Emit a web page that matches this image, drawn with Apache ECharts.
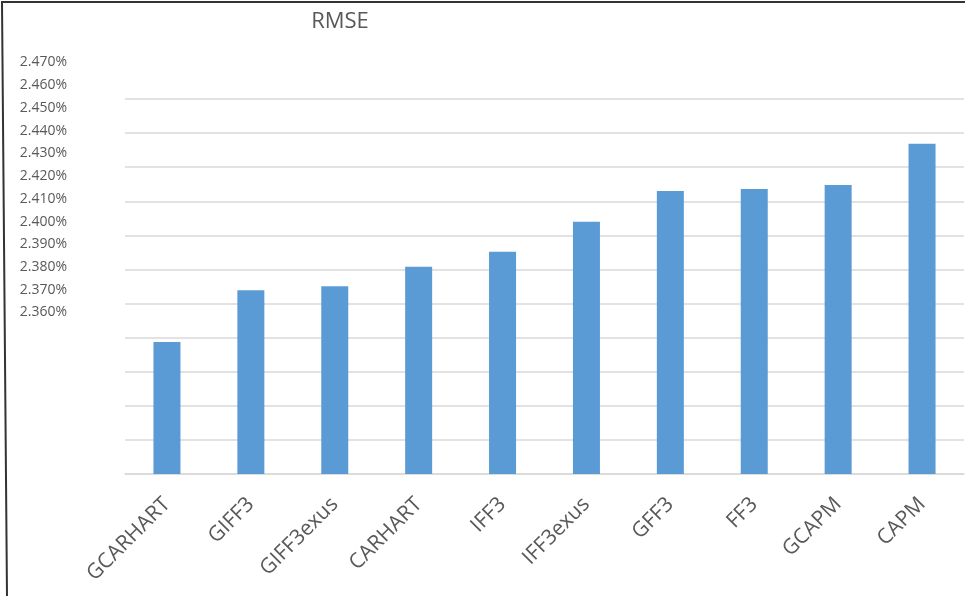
<!DOCTYPE html>
<html>
<head>
<meta charset="utf-8">
<title>RMSE</title>
<script src="https://cdn.jsdelivr.net/npm/echarts@6/dist/echarts.min.js"></script>
<style>
  html, body { margin: 0; padding: 0; background: #fff; }
  #chart { width: 965px; height: 596px; }
</style>
</head>
<body>
<div id="chart"></div>
<script>
  // RMSE per model, in percent
  var models = ["GCARHART", "GIFF3", "GIFF3exus", "CARHART", "IFF3", "IFF3exus", "GFF3", "FF3", "GCAPM", "CAPM"];
  var rmse = [2.3987, 2.4139, 2.4151, 2.4208, 2.4252, 2.4340, 2.4430, 2.4436, 2.4448, 2.4569];
  // tick labels on the left, bottom to top (drawn on their own axis, as in the source)
  var tickLabels = ["2.360%", "2.370%", "2.380%", "2.390%", "2.400%", "2.410%", "2.420%", "2.430%", "2.440%", "2.450%", "2.460%", "2.470%"];
  var yMin = 2.36;
  var yMax = 2.47;
  var yStep = 0.01;

  var myChart = echarts.init(document.getElementById('chart'));
  var txt = '#595959';
  var font = '"Open Sans", sans-serif';

  var option = {
    animation: false,
    title: {
      text: 'RMSE',
      left: 335,
      top: 6,
      textAlign: 'center',
      textStyle: { color: txt, fontSize: 22, fontWeight: 'normal', fontFamily: font }
    },
    grid: [
      { left: 125, right: 1, top: 99, bottom: 596 - 474 },
      { left: 75, width: 10, top: 62.5, bottom: 596 - 312.5 }
    ],
    xAxis: [
      {
        gridIndex: 0,
        type: 'category',
        data: models,
        axisLine: { lineStyle: { color: '#d9d9d9', width: 1.5 } },
        axisTick: { show: false },
        axisLabel: { rotate: 45, margin: 27, color: txt, fontSize: 21, fontFamily: font, interval: 0 }
      },
      { gridIndex: 1, type: 'value', show: false }
    ],
    yAxis: [
      {
        gridIndex: 0,
        type: 'value',
        min: yMin,
        max: yMax,
        interval: yStep,
        axisLabel: { show: false },
        axisLine: { show: false },
        axisTick: { show: false },
        splitLine: { lineStyle: { color: '#d9d9d9', width: 1.5 } }
      },
      {
        gridIndex: 1,
        type: 'category',
        data: tickLabels,
        boundaryGap: false,
        axisLine: { show: false },
        axisTick: { show: false },
        splitLine: { show: false },
        axisLabel: { margin: 8, color: txt, fontSize: 14, fontFamily: font, interval: 0 }
      }
    ],
    series: [
      {
        name: 'RMSE',
        type: 'bar',
        xAxisIndex: 0,
        yAxisIndex: 0,
        data: rmse,
        barWidth: 27,
        itemStyle: { color: '#5b9bd5' }
      }
    ],
    graphic: [
      {
        type: 'polyline',
        shape: { points: [[965, 2], [2, 2], [7, 596]] },
        style: { stroke: '#333', lineWidth: 2, fill: null },
        silent: true
      }
    ]
  };
  myChart.setOption(option);
</script>
</body>
</html>
